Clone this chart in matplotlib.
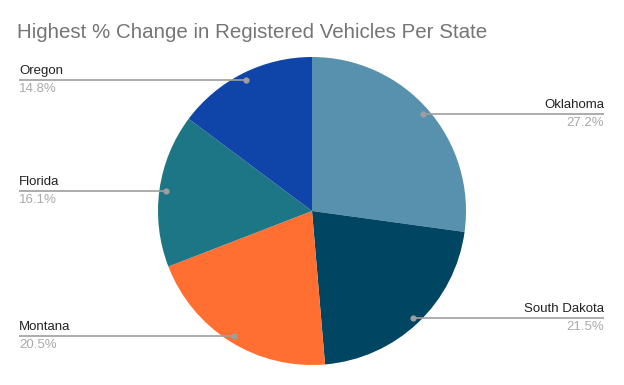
import numpy as np
import matplotlib

matplotlib.use("Agg")
import matplotlib.pyplot as plt

states = ["Oklahoma", "South Dakota", "Montana", "Florida", "Oregon"]
pct = [27.2, 21.5, 20.5, 16.1, 14.8]
colors = ["#5891ad", "#004561", "#ff6f31", "#1c7685", "#0f45a8"]

plt.rcParams["font.family"] = ["Liberation Sans", "DejaVu Sans"]

W, H = 624, 385
fig = plt.figure(figsize=(W / 100, H / 100), dpi=100)
ax = fig.add_axes([0, 0, 1, 1])

cx, cy, r = 312, H - 211, 154
wedges, _ = ax.pie(pct, colors=colors, startangle=90, counterclock=False,
                   center=(cx, cy), radius=r, frame=True,
                   wedgeprops=dict(linewidth=0))
ax.set_xlim(0, W)
ax.set_ylim(0, H)
ax.set_aspect("equal")
ax.axis("off")

# leader lines from a dot inside each slice out to the edge, label above, percent below
for w, name, v in zip(wedges, states, pct):
    ang = np.deg2rad((w.theta1 + w.theta2) / 2)
    px = cx + 0.955 * r * np.cos(ang)
    py = cy + 0.955 * r * np.sin(ang)
    if px > cx:
        x_end, ha = 604, "right"
    else:
        x_end, ha = 19, "left"
    ax.plot([px, x_end], [py, py], color="#9e9e9e", lw=1.2, solid_capstyle="butt")
    ax.plot(px, py, "o", color="#9e9e9e", ms=3.5)
    ax.text(x_end, py + 3, name, ha=ha, va="bottom", fontsize=9.5, color="#222222")
    ax.text(x_end, py - 3, f"{v}%", ha=ha, va="top", fontsize=9.5, color="#aaaaaa")

fig.text(17 / W, 1 - 33 / H, "Highest % Change in Registered Vehicles Per State",
         ha="left", va="center", fontsize=14.8, color="#757575")

fig.savefig("out.png", dpi=100)
